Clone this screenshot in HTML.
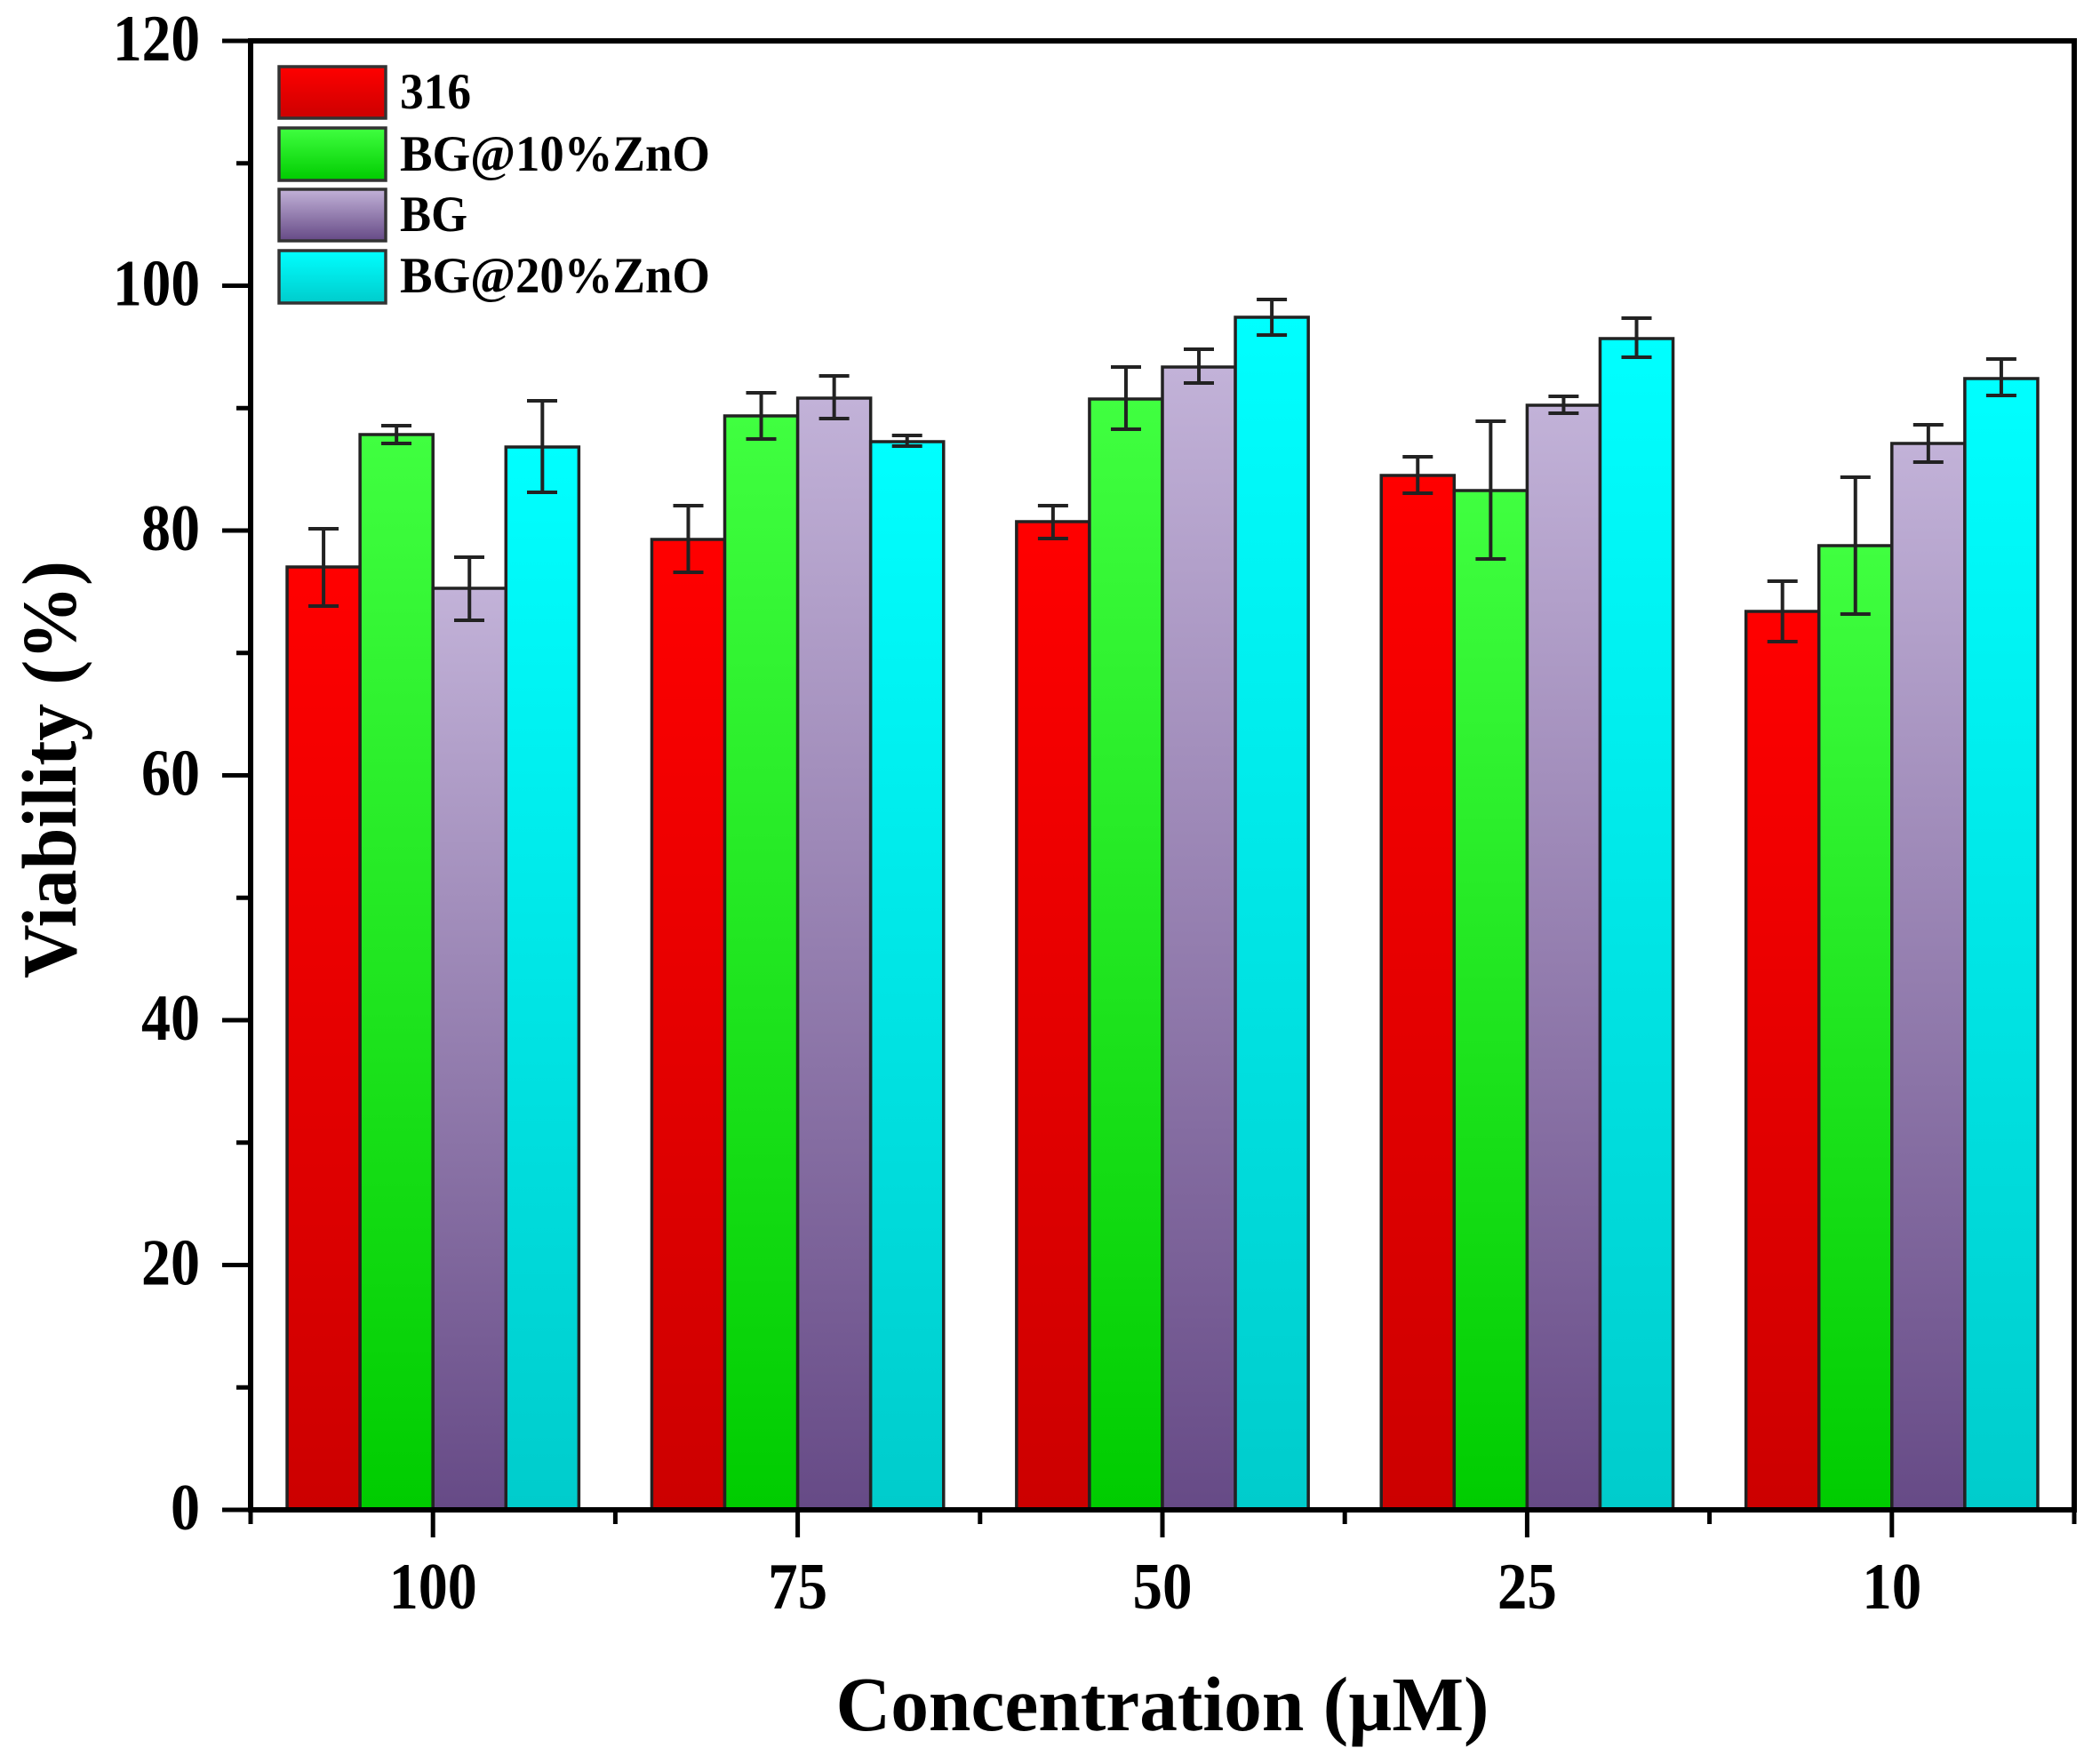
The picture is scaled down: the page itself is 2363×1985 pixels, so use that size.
<!DOCTYPE html>
<html>
<head>
<meta charset="utf-8">
<style>
html,body{margin:0;padding:0;background:#fff;}
svg{display:block;}
text{font-family:"Liberation Serif","Times New Roman",serif;font-weight:bold;fill:#000;}
</style>
</head>
<body>
<svg width="2363" height="1985" viewBox="0 0 2363 1985" xmlns="http://www.w3.org/2000/svg">
<defs>
<linearGradient id="gr" x1="0" y1="0" x2="0" y2="1"><stop offset="0" stop-color="#ff0000"/><stop offset="1" stop-color="#cc0000"/></linearGradient>
<linearGradient id="gg" x1="0" y1="0" x2="0" y2="1"><stop offset="0" stop-color="#40ff40"/><stop offset="1" stop-color="#00cc00"/></linearGradient>
<linearGradient id="gp" x1="0" y1="0" x2="0" y2="1"><stop offset="0" stop-color="#c2b2d8"/><stop offset="1" stop-color="#664a86"/></linearGradient>
<linearGradient id="gc" x1="0" y1="0" x2="0" y2="1"><stop offset="0" stop-color="#00ffff"/><stop offset="1" stop-color="#00cccc"/></linearGradient>
</defs>
<rect x="0" y="0" width="2363" height="1985" fill="#fff"/>

<!-- Bars -->
<g stroke="#222" stroke-width="3.5">
<rect x="323.04" y="638" width="82.08" height="1061" fill="url(#gr)"/>
<rect x="405.12" y="489" width="82.08" height="1210" fill="url(#gg)"/>
<rect x="487.2" y="662" width="82.08" height="1037" fill="url(#gp)"/>
<rect x="569.28" y="503" width="82.08" height="1196" fill="url(#gc)"/>

<rect x="733.44" y="607" width="82.08" height="1092" fill="url(#gr)"/>
<rect x="815.52" y="468" width="82.08" height="1231" fill="url(#gg)"/>
<rect x="897.6" y="448" width="82.08" height="1251" fill="url(#gp)"/>
<rect x="979.68" y="497" width="82.08" height="1202" fill="url(#gc)"/>

<rect x="1143.84" y="587" width="82.08" height="1112" fill="url(#gr)"/>
<rect x="1225.92" y="449" width="82.08" height="1250" fill="url(#gg)"/>
<rect x="1308" y="413" width="82.08" height="1286" fill="url(#gp)"/>
<rect x="1390.08" y="357" width="82.08" height="1342" fill="url(#gc)"/>

<rect x="1554.24" y="535" width="82.08" height="1164" fill="url(#gr)"/>
<rect x="1636.32" y="552" width="82.08" height="1147" fill="url(#gg)"/>
<rect x="1718.4" y="456" width="82.08" height="1243" fill="url(#gp)"/>
<rect x="1800.48" y="381" width="82.08" height="1318" fill="url(#gc)"/>

<rect x="1964.64" y="688" width="82.08" height="1011" fill="url(#gr)"/>
<rect x="2046.72" y="614" width="82.08" height="1085" fill="url(#gg)"/>
<rect x="2128.8" y="499" width="82.08" height="1200" fill="url(#gp)"/>
<rect x="2210.88" y="426" width="82.08" height="1273" fill="url(#gc)"/>
</g>

<!-- Error bars -->
<g stroke="#222" stroke-width="4" fill="none">
<path d="M364.08 595V682M347 595H381M347 682H381"/>
<path d="M446.16 479V499M429 479H463M429 499H463"/>
<path d="M528.24 627V698M511 627H545M511 698H545"/>
<path d="M610.32 451V554M593 451H627M593 554H627"/>

<path d="M774.48 569V644M757.5 569H791.5M757.5 644H791.5"/>
<path d="M856.56 442V494M839.5 442H873.5M839.5 494H873.5"/>
<path d="M938.64 423V471M921.6 423H955.6M921.6 471H955.6"/>
<path d="M1020.72 490V502M1003.7 490H1037.7M1003.7 502H1037.7"/>

<path d="M1184.88 569V606M1167.9 569H1201.9M1167.9 606H1201.9"/>
<path d="M1266.96 413V483M1250 413H1284M1250 483H1284"/>
<path d="M1349.04 393V431M1332 393H1366M1332 431H1366"/>
<path d="M1431.12 337V377M1414.1 337H1448.1M1414.1 377H1448.1"/>

<path d="M1595.28 514V555M1578.3 514H1612.3M1578.3 555H1612.3"/>
<path d="M1677.36 474V629M1660.4 474H1694.4M1660.4 629H1694.4"/>
<path d="M1759.44 446V465M1742.4 446H1776.4M1742.4 465H1776.4"/>
<path d="M1841.52 358V402M1824.5 358H1858.5M1824.5 402H1858.5"/>

<path d="M2005.68 654V722M1988.7 654H2022.7M1988.7 722H2022.7"/>
<path d="M2087.76 537V691M2070.8 537H2104.8M2070.8 691H2104.8"/>
<path d="M2169.84 478V520M2152.8 478H2186.8M2152.8 520H2186.8"/>
<path d="M2251.92 404V445M2234.9 404H2268.9M2234.9 445H2268.9"/>
</g>

<!-- Axes frame -->
<rect x="282" y="46" width="2052" height="1653" fill="none" stroke="#000" stroke-width="6"/>

<!-- Y ticks -->
<g stroke="#000" stroke-width="5">
<path d="M250 1699H282M250 1423.5H282M250 1148H282M250 872.5H282M250 597H282M250 321.5H282M250 46H282"/>
<path d="M266 1561.25H282M266 1285.75H282M266 1010.25H282M266 734.75H282M266 459.25H282M266 183.75H282"/>
</g>
<!-- X ticks -->
<g stroke="#000" stroke-width="5">
<path d="M487.2 1699V1730M897.6 1699V1730M1308 1699V1730M1718.4 1699V1730M2128.8 1699V1730"/>
<path d="M282 1699V1715M692.4 1699V1715M1102.8 1699V1715M1513.2 1699V1715M1923.6 1699V1715M2334 1699V1715"/>
</g>

<!-- Y tick labels -->
<g font-size="74" text-anchor="end">
<text x="225" y="1721" textLength="33" lengthAdjust="spacingAndGlyphs">0</text>
<text x="225" y="1445.5" textLength="66" lengthAdjust="spacingAndGlyphs">20</text>
<text x="225" y="1170" textLength="66" lengthAdjust="spacingAndGlyphs">40</text>
<text x="225" y="894.5" textLength="66" lengthAdjust="spacingAndGlyphs">60</text>
<text x="225" y="619" textLength="66" lengthAdjust="spacingAndGlyphs">80</text>
<text x="225" y="343.5" textLength="98" lengthAdjust="spacingAndGlyphs">100</text>
<text x="225" y="68" textLength="98" lengthAdjust="spacingAndGlyphs">120</text>
</g>

<!-- X tick labels -->
<g font-size="74" text-anchor="middle">
<text x="487.2" y="1810" textLength="99" lengthAdjust="spacingAndGlyphs">100</text>
<text x="897.6" y="1810" textLength="67" lengthAdjust="spacingAndGlyphs">75</text>
<text x="1308" y="1810" textLength="67" lengthAdjust="spacingAndGlyphs">50</text>
<text x="1718.4" y="1810" textLength="67" lengthAdjust="spacingAndGlyphs">25</text>
<text x="2128.8" y="1810" textLength="67" lengthAdjust="spacingAndGlyphs">10</text>
</g>

<!-- Axis titles -->
<text x="1308" y="1947" font-size="87" text-anchor="middle" textLength="735" lengthAdjust="spacingAndGlyphs">Concentration (µM)</text>
<text transform="translate(85,866) rotate(-90)" font-size="87" text-anchor="middle" textLength="470" lengthAdjust="spacingAndGlyphs">Viability (%)</text>

<!-- Legend -->
<g stroke="#333" stroke-width="3.5">
<rect x="314" y="75" width="120" height="58" fill="url(#gr)"/>
<rect x="314" y="144" width="120" height="59" fill="url(#gg)"/>
<rect x="314" y="213" width="120" height="58" fill="url(#gp)"/>
<rect x="314" y="282" width="120" height="59" fill="url(#gc)"/>
</g>
<g font-size="57">
<text x="450" y="122" textLength="80" lengthAdjust="spacingAndGlyphs">316</text>
<text x="450" y="192" textLength="349" lengthAdjust="spacingAndGlyphs">BG@10%ZnO</text>
<text x="450" y="260" textLength="76" lengthAdjust="spacingAndGlyphs">BG</text>
<text x="450" y="329" textLength="349" lengthAdjust="spacingAndGlyphs">BG@20%ZnO</text>
</g>
</svg>
</body>
</html>
